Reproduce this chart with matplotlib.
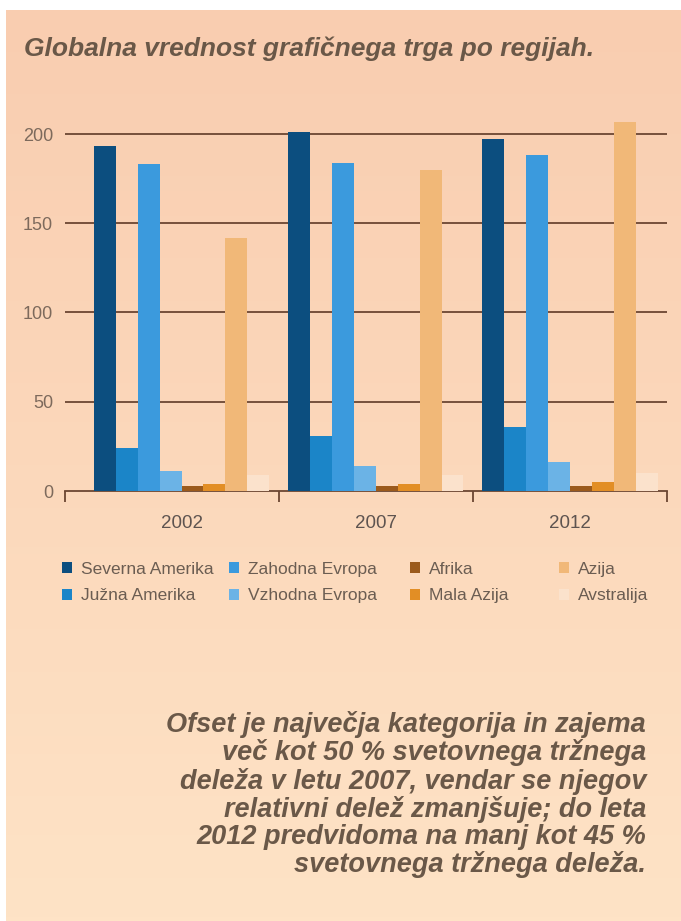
# Library imports
import matplotlib
matplotlib.use("Agg")
import matplotlib.pyplot as plt
import numpy as np

# Data
years = ["2002", "2007", "2012"]
regions = ["Severna Amerika", "Južna Amerika", "Zahodna Evropa", "Vzhodna Evropa",
           "Afrika", "Mala Azija", "Azija", "Avstralija"]
severna_amerika = [193, 201, 197]
juzna_amerika = [24, 31, 36]
zahodna_evropa = [183, 184, 188]
vzhodna_evropa = [11, 14, 16]
afrika = [3, 3, 3]
mala_azija = [4, 4, 5]
azija = [142, 180, 207]
avstralija = [9, 9, 10]
series = [severna_amerika, juzna_amerika, zahodna_evropa, vzhodna_evropa,
          afrika, mala_azija, azija, avstralija]

colors = ["#0c4e7f", "#1b85c8", "#3b9add", "#6bb3e6",
          "#9b5a1c", "#e28e25", "#f1b878", "#fbe2cc"]

title = "Globalna vrednost grafičnega trga po regijah."
note = ("Ofset je največja kategorija in zajema\n"
        "več kot 50 % svetovnega tržnega\n"
        "deleža v letu 2007, vendar se njegov\n"
        "relativni delež zmanjšuje; do leta\n"
        "2012 predvidoma na manj kot 45 %\n"
        "svetovnega tržnega deleža.")

plt.rcParams['font.family'] = ['Liberation Sans', 'DejaVu Sans']

W, H = 681, 921
fig = plt.figure(figsize=(W / 100, H / 100), dpi=100)
fig.patch.set_facecolor("white")

# Background gradient (white strip on top and left)
bg = fig.add_axes([6 / W, 0, 1 - 6 / W, 1 - 10 / H])
bg.axis("off")
top = np.array([249, 205, 176]) / 255
bottom = np.array([254, 227, 198]) / 255
t = np.linspace(0, 1, 256)[:, None]
grad = top[None, :] * (1 - t) + bottom[None, :] * t
bg.imshow(grad[:, None, :], aspect="auto", extent=[0, 1, 0, 1])

# Chart axes
y0_px, px_per_unit = 491, 357 / 200
ytop = 215
ax = fig.add_axes([65 / W, 1 - y0_px / H, (667 - 65) / W, ytop * px_per_unit / H])
ax.patch.set_alpha(0)

x = np.arange(len(years))
bw = 0.113
n = len(series)
bars = []
for i, (vals, c, name) in enumerate(zip(series, colors, regions)):
    bars.append(ax.bar(x + (i - (n - 1) / 2) * bw, vals, width=bw, color=c,
                       label=name, zorder=3))

ax.set_xlim(-0.6, 2.5)
ax.set_ylim(0, ytop)

grid_col = "#6c4632"
for v in [50, 100, 150, 200]:
    ax.axhline(v, color=grid_col, lw=1.3, zorder=1)

for s in ["top", "right", "left"]:
    ax.spines[s].set_visible(False)
ax.spines["bottom"].set_color(grid_col)
ax.spines["bottom"].set_linewidth(1.3)

ax.set_yticks([0, 50, 100, 150, 200])
ax.tick_params(axis="y", length=0, pad=8.5, labelsize=13, labelcolor="#7d6a5c")

ax.set_xticks([-0.6, 0.5, 1.5, 2.5])
ax.set_xticklabels([])
ax.tick_params(axis="x", which="major", length=8, width=1.3, color=grid_col, direction="out")
ax.set_xticks(x, minor=True)
ax.set_xticklabels(years, minor=True)
ax.tick_params(axis="x", which="minor", length=0, pad=17, labelsize=13.5, labelcolor="#5e5450")

# Legend: four columns at fixed positions, two entries each
col_x = [62, 229, 410, 559]
for k, cx in enumerate(col_x):
    pair = bars[2 * k:2 * k + 2]
    leg = fig.legend(pair, regions[2 * k:2 * k + 2], loc="upper left",
                     bbox_to_anchor=(cx / W, 1 - 562 / H), ncol=1,
                     frameon=False, fontsize=12.5, labelcolor="#6b5d52",
                     borderpad=0, borderaxespad=0,
                     handlelength=0.6, handleheight=0.6, handletextpad=0.5,
                     labelspacing=0.65)

# Title and note text
fig.text(24 / W, 1 - 49 / H, title, fontsize=19, fontweight="bold", fontstyle="italic",
         color="#6a5848", va="center", ha="left")
fig.text(646 / W, 1 - 711 / H, note, fontsize=19.5, fontweight="bold", fontstyle="italic",
         color="#6a5848", va="top", ha="right", multialignment="right", linespacing=1.06)

fig.savefig("out.png", dpi=100)
